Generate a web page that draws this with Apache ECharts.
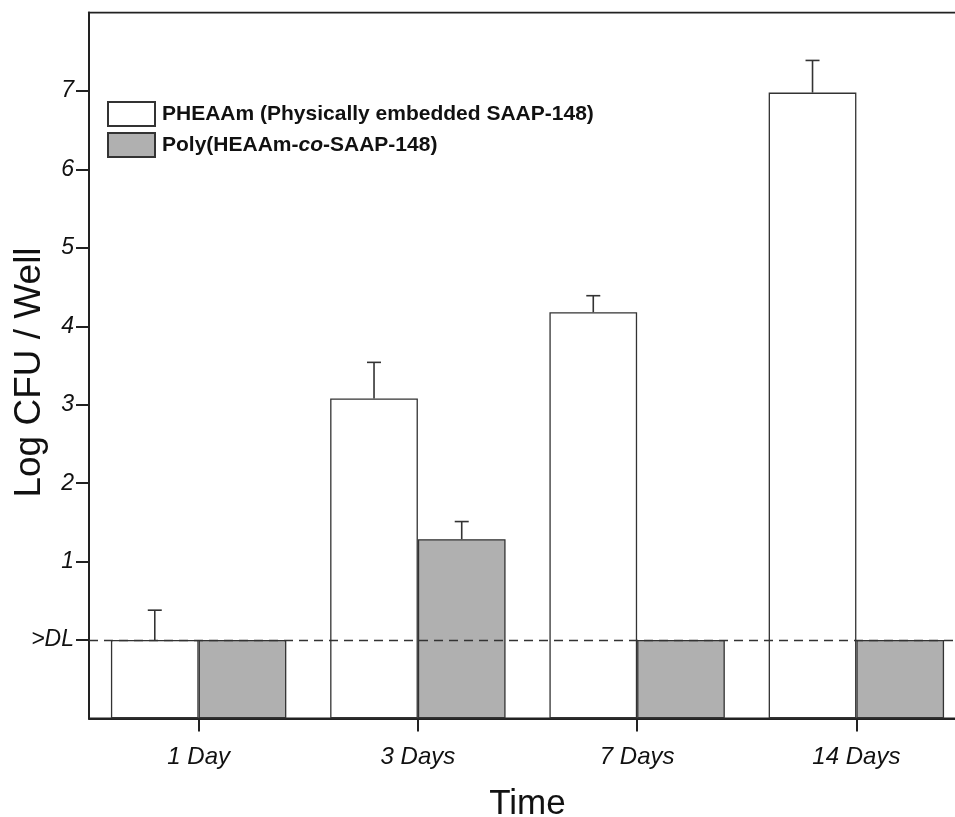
<!DOCTYPE html>
<html>
<head>
<meta charset="utf-8">
<script src="https://cdn.jsdelivr.net/npm/echarts@6/dist/echarts.min.js"></script>
<style>
  html, body { margin: 0; padding: 0; background: #fff; }
  #main { width: 955px; height: 817px; }
</style>
</head>
<body>
<div id="main"></div>
<script>
const categories = ['1 Day', '3 Days', '7 Days', '14 Days']
const pheaamName = 'PHEAAm (Physically embedded SAAP-148)'
const polyName = 'Poly(HEAAm-co-SAAP-148)'
const pheaam = [0, 3.08, 4.18, 6.98]
const pheaamErr = [0.38, 0.46, 0.21, 0.41]
const poly = [0, 1.285, 0, 0]
const polyErr = [0, 0.225, 0, 0]
const yTicks = [0, 1, 2, 3, 4, 5, 6, 7]

const font = '"Liberation Sans", Arial, sans-serif'

// upper whisker only, shifted to the centre of the bar
function errorBars(values, errs, shift) {
  return {
    type: 'custom',
    silent: true,
    data: values.map((v, i) => [i, v, errs[i]]),
    encode: { x: 0, y: 1 },
    z: 5,
    renderItem: function (params, api) {
      const err = api.value(2)
      if (!err) return
      const band = api.size([1, 0])[0]
      const base = api.coord([api.value(0), api.value(1)])
      const top = api.coord([api.value(0), api.value(1) + err])
      const x = base[0] + band * shift
      const style = { stroke: '#333', lineWidth: 1.6 }
      return {
        type: 'group',
        children: [
          { type: 'line', shape: { x1: x, y1: base[1], x2: x, y2: top[1] }, style },
          { type: 'line', shape: { x1: x - 7, y1: top[1], x2: x + 7, y2: top[1] }, style }
        ]
      }
    }
  }
}

const option = {
  animation: false,
  backgroundColor: '#fff',
  textStyle: { fontFamily: font },
  grid: {
    left: 89,
    right: -11,
    top: 12.6,
    bottom: 98.6,
    containLabel: false,
    outerBoundsMode: 'none',
    show: true,
    borderColor: '#222',
    borderWidth: 1.8
  },
  legend: {
    data: [pheaamName, polyName],
    orient: 'vertical',
    left: 102,
    top: 96,
    itemWidth: 47,
    itemHeight: 24,
    itemGap: 5,
    icon: 'rect',
    selectedMode: false,
    formatter: function (name) {
      if (name === polyName) return '{b|Poly(HEAAm-}{i|co}{b|-SAAP-148)}'
      return '{b|' + name + '}'
    },
    textStyle: {
      padding: [0, 0, 0, 2],
      rich: {
        b: { fontFamily: font, fontWeight: 'bold', fontSize: 21, lineHeight: 24, color: '#111' },
        i: { fontFamily: font, fontWeight: 'bold', fontStyle: 'italic', fontSize: 21, lineHeight: 24, color: '#111' }
      }
    }
  },
  xAxis: {
    type: 'category',
    data: categories,
    name: 'Time',
    nameLocation: 'middle',
    nameGap: 68,
    nameTextStyle: { fontSize: 35, color: '#111', fontFamily: font },
    axisLine: { onZero: false, lineStyle: { color: '#222', width: 2 } },
    axisTick: { show: true, alignWithLabel: true, length: 13, lineStyle: { color: '#222', width: 2 } },
    axisLabel: { fontSize: 24, fontStyle: 'italic', color: '#111', margin: 27, fontFamily: font }
  },
  yAxis: {
    type: 'value',
    min: -1,
    max: 8,
    interval: 1,
    startValue: -1,
    name: 'Log CFU / Well',
    nameLocation: 'middle',
    nameGap: 41,
    nameMoveOverlap: false,
    nameTextStyle: { fontSize: 37, color: '#111', fontFamily: font, padding: [0, 14, 0, 0] },
    splitLine: { show: false },
    axisLine: { show: true, lineStyle: { color: '#222', width: 2 } },
    axisTick: { show: true, length: 13, customValues: yTicks, lineStyle: { color: '#222', width: 2 } },
    axisLabel: {
      customValues: yTicks,
      fontSize: 23,
      fontStyle: 'italic',
      color: '#111',
      margin: 15,
      fontFamily: font,
      formatter: v => (v === 0 ? '>DL' : String(v))
    }
  },
  series: [
    {
      name: pheaamName,
      type: 'bar',
      data: pheaam,
      barGap: '0%',
      barCategoryGap: '20%',
      itemStyle: { color: '#ffffff', borderColor: '#333', borderWidth: 1.3 },
      markLine: {
        silent: true,
        symbol: 'none',
        label: { show: false },
        lineStyle: { color: '#333', type: [9, 6], width: 1.4 },
        data: [{ yAxis: 0 }]
      }
    },
    {
      name: polyName,
      type: 'bar',
      data: poly,
      itemStyle: { color: '#b0b0b0', borderColor: '#333', borderWidth: 1.3 }
    },
    errorBars(pheaam, pheaamErr, -0.2),
    errorBars(poly, polyErr, 0.2)
  ]
}

const myChart = echarts.init(document.getElementById('main'))
myChart.setOption(option)
</script>
</body>
</html>
